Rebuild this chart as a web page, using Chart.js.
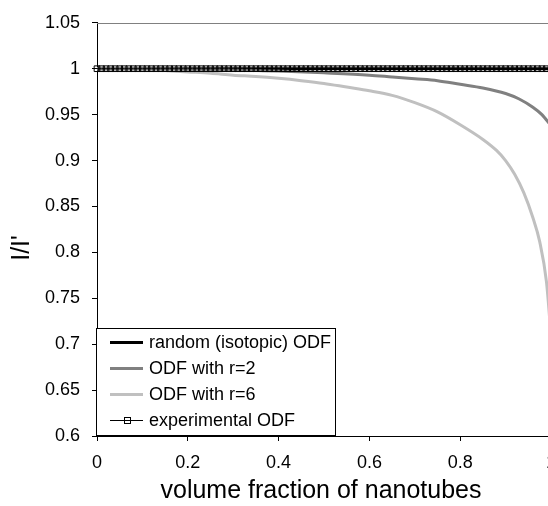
<!DOCTYPE html>
<html>
<head>
<meta charset="utf-8">
<script src="https://cdn.jsdelivr.net/npm/chart.js@4/dist/chart.umd.min.js"></script>
<style>
  html, body { margin: 0; padding: 0; background: #fff; overflow: hidden; }
  #wrap { width: 548px; height: 506px; overflow: hidden; position: relative; }
  canvas { display: block; }
</style>
</head>
<body>
<div id="wrap"><canvas id="c" width="567" height="506"></canvas></div>
<script>
// Axis ticks
const xTicks = [0, 0.2, 0.4, 0.6, 0.8, 1];
const yTicks = [0.6, 0.65, 0.7, 0.75, 0.8, 0.85, 0.9, 0.95, 1, 1.05];

// random (isotopic) ODF
const randX = [0, 1];
const randY = [1, 1];

// ODF with r=2
const r2X = [0, 0.1, 0.2, 0.3, 0.4, 0.5, 0.6, 0.65, 0.7, 0.75, 0.8, 0.85, 0.9, 0.93, 0.96, 0.98, 1.0];
const r2Y = [1, 1, 0.9995, 0.999, 0.9975, 0.9955, 0.993, 0.991, 0.989, 0.987, 0.983, 0.979, 0.973, 0.967, 0.958, 0.950, 0.938];

// ODF with r=6
const r6X = [0, 0.1, 0.15, 0.2, 0.25, 0.3, 0.35, 0.4, 0.45, 0.5, 0.55, 0.6, 0.65, 0.7, 0.75, 0.8, 0.85, 0.88, 0.9, 0.92, 0.94, 0.96, 0.975, 0.99, 1.0];
const r6Y = [1, 0.9995, 0.998, 0.9965, 0.995, 0.993, 0.9915, 0.9895, 0.987, 0.984, 0.980, 0.976, 0.971, 0.963, 0.953, 0.939, 0.923, 0.911, 0.900, 0.885, 0.865, 0.838, 0.812, 0.768, 0.71];

// experimental ODF
const expX = [
  0, 0.01, 0.02, 0.03, 0.04, 0.05, 0.06, 0.07, 0.08, 0.09,
  0.1, 0.11, 0.12, 0.13, 0.14, 0.15, 0.16, 0.17, 0.18, 0.19,
  0.2, 0.21, 0.22, 0.23, 0.24, 0.25, 0.26, 0.27, 0.28, 0.29,
  0.3, 0.31, 0.32, 0.33, 0.34, 0.35, 0.36, 0.37, 0.38, 0.39,
  0.4, 0.41, 0.42, 0.43, 0.44, 0.45, 0.46, 0.47, 0.48, 0.49,
  0.5, 0.51, 0.52, 0.53, 0.54, 0.55, 0.56, 0.57, 0.58, 0.59,
  0.6, 0.61, 0.62, 0.63, 0.64, 0.65, 0.66, 0.67, 0.68, 0.69,
  0.7, 0.71, 0.72, 0.73, 0.74, 0.75, 0.76, 0.77, 0.78, 0.79,
  0.8, 0.81, 0.82, 0.83, 0.84, 0.85, 0.86, 0.87, 0.88, 0.89,
  0.9, 0.91, 0.92, 0.93, 0.94, 0.95, 0.96, 0.97, 0.98, 0.99,
  1
];
const expY = [
  1, 1, 1, 1, 1, 1, 1, 1, 1, 1,
  1, 1, 1, 1, 1, 1, 1, 1, 1, 1,
  1, 1, 1, 1, 1, 1, 1, 1, 1, 1,
  1, 1, 1, 1, 1, 1, 1, 1, 1, 1,
  1, 1, 1, 1, 1, 1, 1, 1, 1, 1,
  1, 1, 1, 1, 1, 1, 1, 1, 1, 1,
  1, 1, 1, 1, 1, 1, 1, 1, 1, 1,
  1, 1, 1, 1, 1, 1, 1, 1, 1, 1,
  1, 1, 1, 1, 1, 1, 1, 1, 1, 1,
  1, 1, 1, 1, 1, 1, 1, 1, 1, 1,
  1
];

const xTitle = 'volume fraction of nanotubes';
const yTitle = "I/I'";

const FONT = '"Liberation Sans", Arial, sans-serif';
const pts = (xs, ys) => xs.map((x, i) => ({ x: x, y: ys[i] }));

// Axis titles, top/right frame and the boxed legend
const decor = {
  id: 'decor',
  afterDraw(chart) {
    const ctx = chart.ctx;
    const a = chart.chartArea;
    ctx.save();
    // frame of the plot area (top and right sides)
    ctx.strokeStyle = '#808080';
    ctx.lineWidth = 1;
    ctx.beginPath();
    ctx.moveTo(a.left, Math.round(a.top) + 0.5);
    ctx.lineTo(Math.round(a.right) + 0.5, Math.round(a.top) + 0.5);
    ctx.lineTo(Math.round(a.right) + 0.5, a.bottom);
    ctx.stroke();

    // axis titles
    ctx.fillStyle = '#000';
    ctx.font = '25px ' + FONT;
    ctx.textAlign = 'center';
    ctx.textBaseline = 'middle';
    ctx.fillText(xTitle, 321, 491);
    ctx.save();
    ctx.translate(22, 248);
    ctx.rotate(-Math.PI / 2);
    ctx.fillText(yTitle, 0, 0);
    ctx.restore();

    // legend
    const bx = 96.5, by = 328.5, bw = 239, bh = 107;
    ctx.fillStyle = '#fff';
    ctx.fillRect(bx, by, bw, bh);
    ctx.strokeStyle = '#000';
    ctx.lineWidth = 1;
    ctx.strokeRect(bx, by, bw, bh);
    ctx.font = '18px ' + FONT;
    ctx.textAlign = 'left';
    ctx.textBaseline = 'middle';
    const rowY = [342, 368, 394, 420];
    chart.data.datasets.forEach((ds, i) => {
      const y = rowY[i];
      const off = ds.borderWidth % 2 ? 0.5 : 0;
      ctx.strokeStyle = ds.borderColor;
      ctx.lineWidth = ds.borderWidth;
      ctx.beginPath();
      ctx.moveTo(110, y + off);
      ctx.lineTo(143, y + off);
      ctx.stroke();
      if (ds.pointRadius > 0) {
        ctx.strokeStyle = ds.pointBorderColor;
        ctx.lineWidth = 1;
        ctx.strokeRect(124.5, y - 2.5, 6, 6);
      }
      ctx.fillStyle = '#000';
      ctx.fillText(ds.label, 149, y + 1);
    });
    ctx.restore();
  }
};

new Chart(document.getElementById('c'), {
  type: 'scatter',
  data: {
    datasets: [
      {
        label: 'random (isotopic) ODF',
        data: pts(randX, randY),
        showLine: true,
        borderColor: '#000000',
        borderWidth: 3,
        pointRadius: 0,
        order: 4
      },
      {
        label: 'ODF with r=2',
        data: pts(r2X, r2Y),
        showLine: true,
        borderColor: '#808080',
        borderWidth: 3,
        pointRadius: 0,
        cubicInterpolationMode: 'monotone',
        order: 2
      },
      {
        label: 'ODF with r=6',
        data: pts(r6X, r6Y),
        showLine: true,
        borderColor: '#c0c0c0',
        borderWidth: 3,
        pointRadius: 0,
        cubicInterpolationMode: 'monotone',
        order: 3
      },
      {
        label: 'experimental ODF',
        data: pts(expX, expY),
        showLine: true,
        borderColor: '#000000',
        borderWidth: 1,
        pointStyle: 'rect',
        pointRadius: 4,
        pointBorderWidth: 1,
        pointBorderColor: '#000000',
        pointBackgroundColor: 'rgba(0,0,0,0)',
        clip: 8,
        order: 1
      }
    ]
  },
  options: {
    responsive: false,
    animation: false,
    devicePixelRatio: 1,
    layout: { padding: { left: 0, top: 19, right: 9, bottom: 0 } },
    plugins: {
      legend: { display: false },
      tooltip: { enabled: false },
      title: { display: false }
    },
    scales: {
      x: {
        type: 'linear',
        min: xTicks[0],
        max: xTicks[xTicks.length - 1],
        afterBuildTicks: s => { s.ticks = xTicks.map(v => ({ value: v })); },
        afterFit: s => { s.height = 70; },
        ticks: {
          color: '#000',
          font: { family: FONT, size: 18 },
          padding: 11,
          maxRotation: 0,
          callback: v => String(parseFloat(Number(v).toFixed(2)))
        },
        grid: { drawOnChartArea: false, drawTicks: true, tickLength: 5, color: '#000' },
        border: { color: '#000', width: 1 }
      },
      y: {
        type: 'linear',
        min: yTicks[0],
        max: yTicks[yTicks.length - 1],
        afterBuildTicks: s => { s.ticks = yTicks.map(v => ({ value: v })); },
        afterFit: s => { s.width = 97; },
        ticks: {
          color: '#000',
          font: { family: FONT, size: 18 },
          padding: 12,
          callback: v => String(parseFloat(Number(v).toFixed(2)))
        },
        grid: { drawOnChartArea: false, drawTicks: true, tickLength: 5, color: '#000' },
        border: { color: '#000', width: 1 }
      }
    }
  },
  plugins: [decor]
});
</script>
</body>
</html>
